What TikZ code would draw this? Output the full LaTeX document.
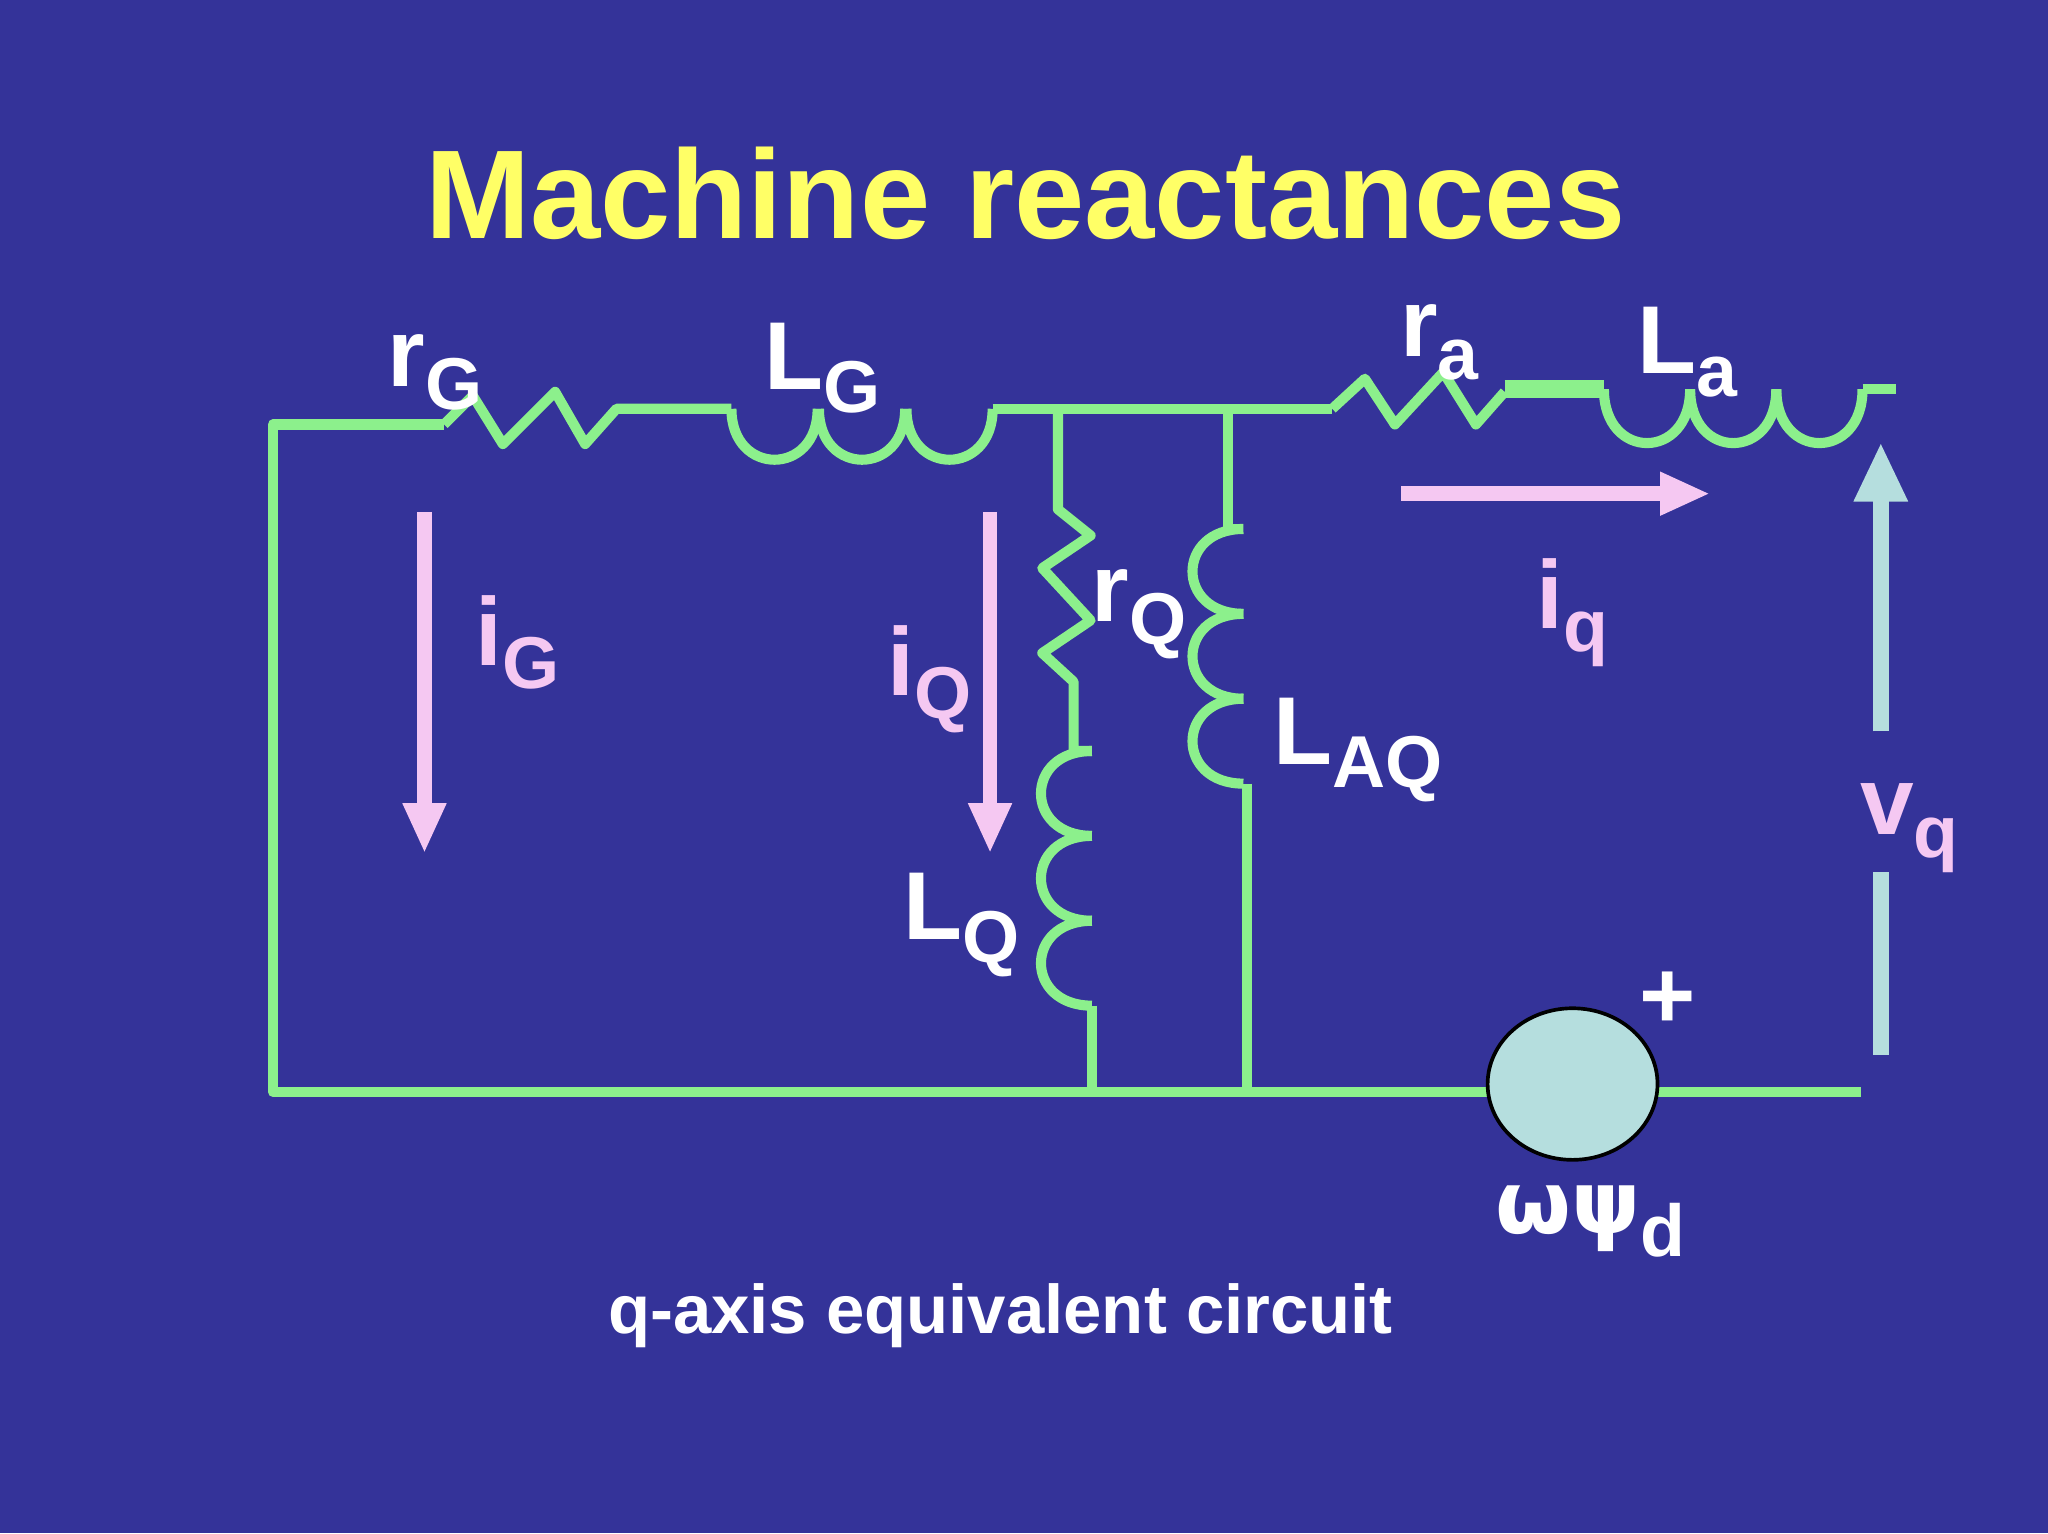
\documentclass[tikz,border=0pt]{standalone}
\usepackage{fontspec}
\setmainfont{Liberation Sans}
\newfontfamily\dvs{DejaVu Sans}
\usetikzlibrary{shapes.geometric}
\newcommand{\sbs}[1]{\raisebox{-0.45ex}{\fontsize{16}{18}\bfseries\selectfont #1}}
\begin{document}
\begin{tikzpicture}[x=0.01cm,y=-0.01cm]
\definecolor{bg}{HTML}{343399}
\definecolor{wire}{HTML}{8CF08C}
\definecolor{ttl}{HTML}{FFFF66}
\definecolor{pk}{HTML}{F5C8F2}
\definecolor{cy}{HTML}{B5DEDE}
\tikzset{w/.style={draw=wire,line width=2.2pt,line join=round},
 lab/.style={text=white,font=\fontsize{21}{24}\bfseries\selectfont},
 plab/.style={text=pk,font=\fontsize{21}{24}\bfseries\selectfont},
 parr/.style={draw=pk,line width=3.2pt}}
\fill[bg] (0,0) rectangle (1568,1174);
\node[text=ttl,font=\fontsize{27.5}{32}\bfseries\selectfont] (title) at (785,148) {Machine reactances};
% left loop
\draw[w] (340,325) -- (209,325) -- (209,836) -- (1140,836);
\draw[w] (340,325) -- (362,303) -- (385,340) -- (425,300) -- (448,340) -- (472,313) -- (560,313);
\foreach \a in {560,627,694}
 \draw[w] (\a,313) .. controls (\a,365) and (\a+66,365) .. (\a+66,313);
\draw[w] (760,313) -- (1020,313);
% rQ LQ branch
\draw[w] (810,313) -- (810,390) -- (835,410) -- (798,435) -- (835,475) -- (798,500) -- (822,522) -- (822,575) -- (836,575);
\foreach \b in {575,640,705}
 \draw[w] (836,\b) .. controls (784,\b) and (784,\b+65) .. (836,\b+65);
\draw[w] (836,770) -- (836,836);
% LAQ branch
\draw[w] (940,313) -- (940,405) -- (952,405);
\foreach \b in {405,470,535}
 \draw[w] (952,\b) .. controls (900,\b) and (900,\b+65) .. (952,\b+65);
\draw[w] (955,600) -- (955,836);
% right
\draw[w] (1020,313) -- (1045,290) -- (1068,325) -- (1105,285) -- (1130,325) -- (1152,300);
\draw[draw=wire,line width=4pt] (1152,298) -- (1228,298);
\foreach \a in {1228,1294,1360}
 \draw[w] (\a,298) .. controls (\a,353) and (\a+66,353) .. (\a+66,298);
\draw[w] (1426,298) -- (1452,298);
\coordinate (rend) at (1425,836);
\draw[w] (1260,836) -- (rend);
\node[ellipse,draw=black,line width=0.8pt,fill=cy,minimum width=1.3cm,minimum height=1.16cm,inner sep=0] (src) at (1204,830) {};
\node[lab] (plus) at (1277,766) {+};
% arrows
\draw[parr] (325,392) -- (325,620);
\fill[pk] (308,615) -- (342,615) -- (325,652) -- cycle;
\draw[parr] (758,392) -- (758,620);
\fill[pk] (741,615) -- (775,615) -- (758,652) -- cycle;
\draw[parr] (1073,378) -- (1275,378);
\fill[pk] (1271,361) -- (1271,395) -- (1308,378) -- cycle;
\draw[draw=cy,line width=3.5pt] (1440,560) -- (1440,380);
\fill[cy] (1419,384) -- (1461,384) -- (1440,340) -- cycle;
\draw[draw=cy,line width=3.5pt] (1440,668) -- (1440,808);
% labels
\node[lab] (rG) at (333,285) {r\sbs{G}};
\node[lab] (LG) at (630,282) {L\sbs{G}};
\node[lab] (ra) at (1102,262) {r\sbs{a}};
\node[lab] (La) at (1292,270) {L\sbs{a}};
\node[lab] (rQ) at (872,470) {r\sbs{Q}};
\node[lab] (LAQ) at (1040,574) {L\sbs{AQ}};
\node[lab] (LQ) at (736,708) {L\sbs{Q}};
\node[plab] (iG) at (396,492) {i\sbs{G}};
\node[plab] (iQ) at (712,520) {i\sbs{Q}};
\node[plab] (iq) at (1204,469) {i\sbs{q}};
\node[plab] (vq) at (1462,634) {v\sbs{q}};
\node[lab] (wpsi) at (1218,935) {{\dvs\bfseries\fontsize{19}{22}\selectfont ωψ}\sbs{d}};
\node[text=white,font=\fontsize{15}{18}\bfseries\selectfont] (cap) at (766,1007) {q-axis equivalent circuit};
\end{tikzpicture}
\end{document}
